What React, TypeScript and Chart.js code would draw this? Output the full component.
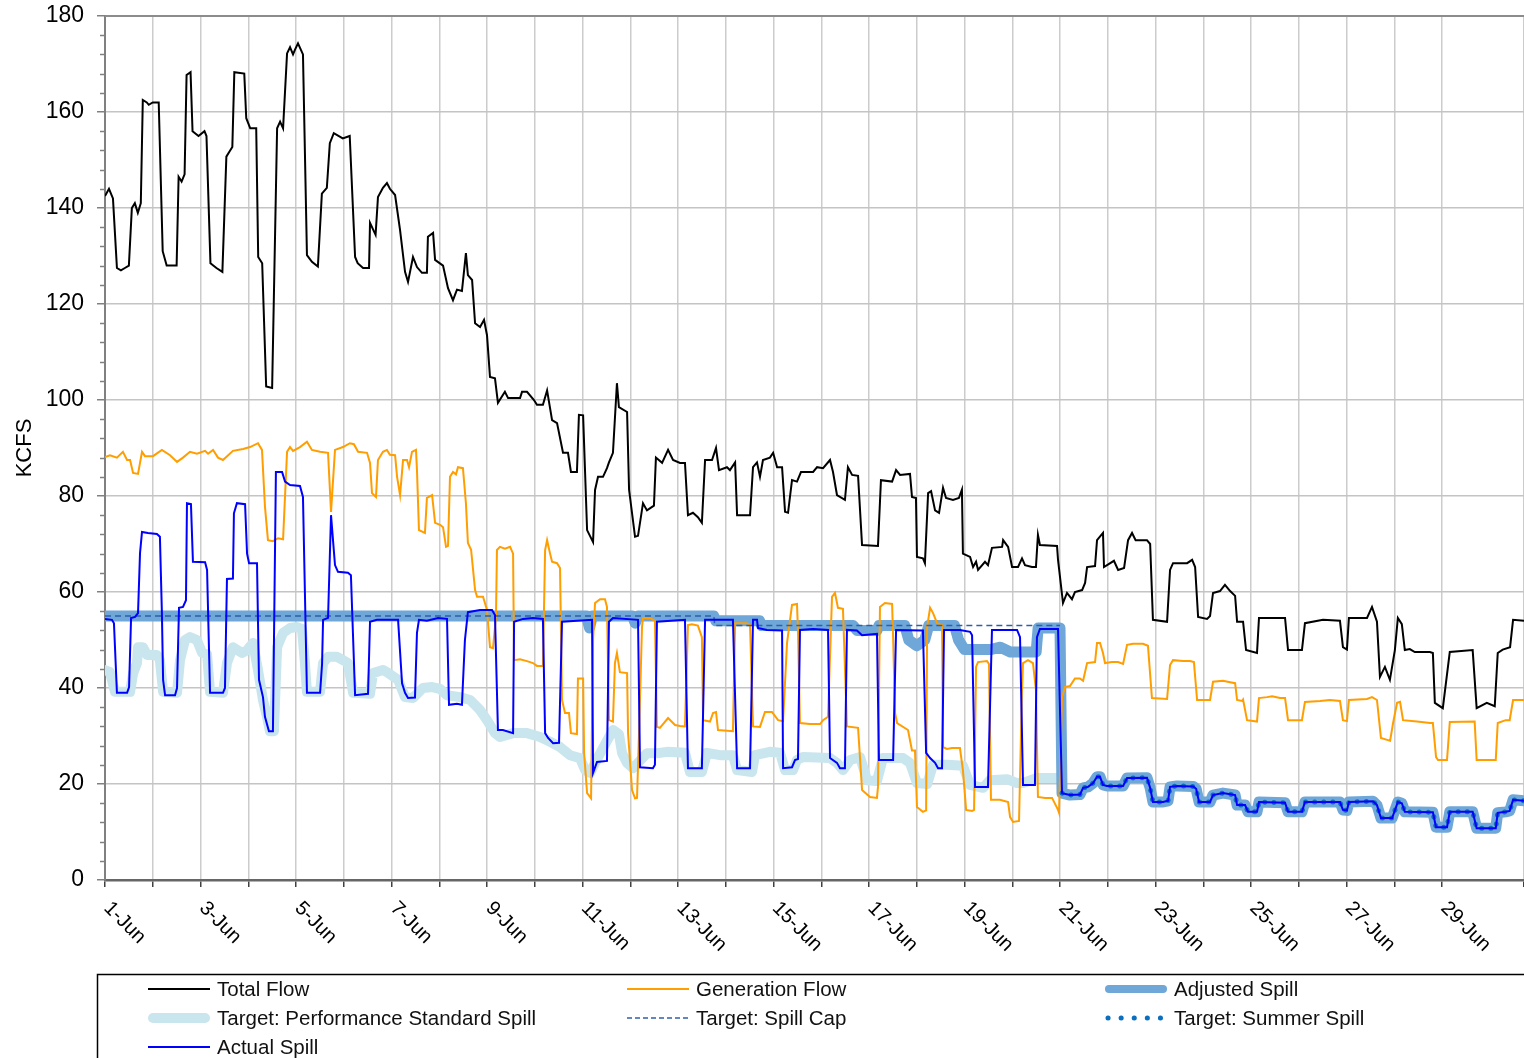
import React, { useEffect, useRef } from "react";
import { Chart, registerables } from "chart.js";

Chart.register(...registerables);

// Hours since 1-Jun 00:00, value in KCFS
const totalFlow: [number, number][] = [
  [0,142.5],[2,144],[4,142],[6,127.5],[8,127],[10,127.5],[12,128],[13.5,140],[15,141],[16.5,139],[18,141],[19,162.5],[21,162],[22,161.5],[24,162],[27,162],[29,131],[31,128],[36,128],[37,146.5],[38.5,145.5],[40,147],[41,167.7],[43,168.3],[44,156],[47,155],[50,156],[51,155],[53,128.5],[56,127.5],[59,126.7],[61,150.7],[62.5,151.7],[64,152.7],[65,168.3],[70,168],[71,158.7],[73,156.6],[76,156.6],[77,129.8],[79,128.5],[81,102.8],[84,102.5],[86.5,156.6],[88,158],[89.5,156.6],[91.5,172.2],[93,173.5],[94.5,172],[95.5,173],[97,174.3],[99.5,172],[101.5,130.2],[104,128.8],[107,127.8],[109,143],[111.5,144.2],[113,153.5],[115,155.6],[119.5,154.5],[123,155],[125.7,129.8],[127,128.5],[129.7,127.5],[132.7,127.5],[133.2,136.9],[136,134.4],[137.2,142.3],[139.7,144.2],[141.7,145.2],[143.2,144],[145.8,142.7],[148.3,135.4],[150.8,126.7],[152.3,124.6],[154.8,129.8],[156.8,127.7],[159.3,126.5],[161.8,126.5],[162.3,134],[164.9,134.8],[165.9,129.2],[169.9,128],[172.4,123.3],[174.9,120.8],[176.9,123],[179.4,122.7],[181.4,130.6],[182.4,126],[184.5,125],[186,116],[188.5,115.2],[190.5,116.7],[192,113.5],[193.5,104.8],[196,104.5],[197.5,99.4],[201,101.7],[202.6,100.4],[208.6,100.4],[209.6,101.7],[212.1,101.7],[215.6,100],[217.1,99],[220.1,99],[222.2,102],[224.7,95.8],[227.2,95.2],[230.2,89],[232.7,89],[234.2,85],[237.2,85],[238.2,96.9],[240.3,96.8],[242.3,72.9],[245.3,70.4],[246.3,81.25],[247.8,84],[250.3,84],[252.3,85.8],[253.3,87],[255.3,89],[257.3,103.5],[258.3,98.5],[262.4,97.5],[263.4,81.3],[266.4,71.5],[267.9,71.7],[270.4,78.5],[272.4,77],[275.9,78],[276.9,88],[280,86.9],[283,89.6],[285.5,87.5],[289,86.9],[291.5,86.9],[293,76],[295.5,76.5],[298,75.6],[300,74.4],[301.6,87.5],[305.1,87.5],[307.1,90],[308.6,85.4],[312.6,86],[314.1,85.4],[316.7,87],[317.7,76],[324.2,76],[325.7,86],[327.7,87],[329.2,84],[330.7,87.5],[334.2,88],[335.8,89],[337.8,86],[340.3,86],[341.8,76.7],[343.3,76.5],[345.3,83.3],[347.8,83],[349.8,85],[355.9,85],[357.9,86],[360.9,85.8],[364.4,87.5],[365.9,85],[367.9,80.2],[371.9,79.2],[373.4,86],[375.5,84.4],[378.5,84.2],[380.5,69.8],[388.5,69.6],[390,83.3],[395.6,83],[397.6,85.4],[399.6,84.4],[404.6,84.6],[405.6,79.8],[407.6,79.6],[408.1,67.3],[411.1,67],[412.1,66],[413.7,80.6],[415.2,81],[417.2,77],[419.2,76.5],[421.2,81.7],[422.7,79.6],[426.2,79.2],[429.2,79.6],[430.7,81.3],[431.2,68],[434.8,67.3],[436.3,65.2],[437.8,66.3],[438.8,64.6],[442.3,66.3],[443.8,65.6],[445.8,69.2],[450.9,69.4],[451.4,70.8],[453.9,69.4],[455.9,65.2],[458.9,65.2],[460.9,67],[462.4,65.6],[465.9,65.2],[467.9,65.2],[468.9,71.9],[469.9,69.8],[478.5,69.6],[479,66.7],[481.5,57.7],[483.5,59.8],[486,58.5],[487.5,60],[491.1,60.4],[492.6,61.9],[493.6,65.2],[497.6,65.4],[498.6,70.8],[501.6,72.3],[502.1,65.2],[507.1,66.5],[509.2,64.6],[512.2,65],[514.2,70.8],[516.2,72.3],[518,70.8],[523.7,70.8],[525.3,70],[526.7,54.2],[533.8,53.8],[535.3,64.6],[536.8,66],[543.9,66],[546.4,66.7],[547.9,65.2],[549.4,54.8],[553.9,54.4],[555.4,55],[556.9,59.8],[560.4,60.2],[562.9,61.5],[565.5,60.2],[568,59.2],[569,53.8],[572,53.8],[573.5,47.9],[579,47.3],[580,54.6],[593.1,54.6],[594.6,47.9],[601.6,47.9],[603.1,53.5],[612.2,54.2],[620.7,54],[622.2,48.5],[624.2,48],[625.2,54.6],[634.3,54.6],[636.8,56.9],[639.3,53.8],[640.8,42.3],[643.3,44.4],[645.8,41.7],[648.3,47.9],[649.8,54.6],[651.8,53.3],[653.3,47.9],[655.8,48.1],[658.3,47.5],[665.9,47.5],[667.4,47.3],[668.4,36.9],[672.4,35.8],[675.9,47.5],[687.4,47.9],[689.4,35.8],[694.5,36.9],[698.5,36.2],[700,47.3],[702.5,48],[706.2,48.5],[707.7,54.2],[713.2,54]
];

const generationFlow: [number, number][] = [
  [0,88.1],[2.5,88.5],[6,88],[9,89.2],[11.1,87.5],[12.6,87.5],[14.1,84.8],[16.6,84.6],[18.6,89.2],[20.1,88.3],[24.1,88.3],[28.6,89.6],[32.7,88.5],[36.2,87.1],[39.2,88],[42.7,89.2],[46.2,88.8],[50.3,89.4],[51.8,88.8],[54.3,89.6],[56.8,88],[59.3,87.5],[64.3,89.4],[69.4,89.8],[72.9,90.2],[76.9,91],[78.9,89.6],[80.4,77.8],[81.9,70.8],[84.4,70.6],[87,71.2],[89.5,71],[91.5,89.2],[93,90.2],[94.5,89.4],[98,90.2],[101.5,91.3],[104,89.6],[108.1,89.2],[112.1,89],[113.6,76.7],[115.6,89.6],[119.6,90.2],[123.1,91],[125.1,90.8],[127.2,89.2],[131.7,89],[133.2,86.9],[134.2,80.6],[136.2,79.8],[137.2,87.5],[139.7,89.2],[141.7,89.6],[143.2,88.6],[145.8,88.5],[146.8,84],[148.3,80.2],[149.8,87.5],[151.8,87.5],[152.8,86],[154.3,89.2],[156.3,89.6],[156.8,85.4],[157.8,72.9],[160.8,72.3],[161.8,79.6],[164.4,80.2],[165.9,74.4],[168.4,74],[169.9,73.5],[171.4,69.4],[172.4,69.6],[173.4,84],[174.9,85],[176.4,84.5],[177.4,86],[179.9,85.8],[181.4,78.5],[182.4,70.2],[184,68.8],[185,64.6],[186,60.4],[187,59],[190,59],[192,56.25],[193.5,48.5],[195,48.3],[196.5,54.8],[197,68.75],[198.5,69.4],[201,69],[203.6,69.4],[205.1,68],[205.6,45.8],[208.6,46],[212.1,45.6],[215.1,45.2],[217.1,44.6],[220.1,44.6],[221.2,68.75],[222.2,70.8],[223.7,68],[224.7,66.3],[227.2,66],[228.7,65],[229.7,37.5],[231.2,34.8],[233.2,34.8],[234.2,30.6],[237.2,30.4],[237.7,42],[240.3,42],[240.8,26.4],[242.3,18.1],[244.3,17],[245.3,50],[246.3,57.7],[248.8,58.5],[251.3,58.5],[252.3,56.9],[253.3,33.3],[255.3,33],[256.3,45.2],[257.3,47.3],[258.8,43.3],[262.4,43.1],[262.9,30.6],[264.9,18.75],[266.4,17],[267.4,17.1],[268.4,30.6],[269.9,52.7],[270.4,54.6],[273.9,54.6],[276.4,54],[277.4,31.9],[278.9,31.7],[283,33.75],[286.5,32.3],[289,32.1],[291.5,32],[293,53.1],[295,53.3],[298,53],[300,50.6],[300.6,33.3],[304.1,33],[305.6,34.8],[307.1,35],[308.1,31.25],[315.6,31],[316.7,53.5],[322.7,53.5],[324.2,53.1],[325.7,32],[329.2,31.9],[331.7,35],[335.2,35],[338.3,33.3],[340.8,33.1],[342.8,49.4],[345.3,57.3],[347.8,57.5],[348.3,52],[349.3,32.7],[354.3,32.5],[359.4,32.5],[360.9,33.3],[363.4,34],[365.4,59],[366.9,59.8],[368.4,56.7],[370.9,56.5],[372.9,32],[378.5,31.7],[380.5,18.75],[384.5,17.3],[388,17.1],[388.5,19.4],[389.5,56.9],[392,57.7],[395.6,57.5],[396.1,50.6],[397.1,34.8],[398.1,32.7],[403.6,31.25],[405.6,27],[407.1,27],[408.1,15.2],[411.1,14.2],[412.7,14.5],[413.2,52.7],[414.7,56.7],[416.2,55.6],[418.2,53.5],[420.7,53.1],[421.2,27.7],[423.2,27.3],[425.7,27.5],[429.7,27.5],[431.2,22.9],[432.8,14.6],[435.8,14.4],[436.8,14.6],[437.8,44.4],[438.8,45.4],[443.3,45.6],[444.3,45],[445.3,16.7],[449.8,16.7],[453.9,16.25],[454.9,13.1],[456.4,12.1],[459.4,12.3],[460.9,39.6],[461.4,45.2],[463.9,45.8],[466.4,45.2],[467.9,39.6],[468.9,17.3],[472.5,17.1],[476,17.1],[479,14.6],[479.5,14],[481,38.1],[482.5,40.2],[485,40.4],[487.5,42],[490,42],[491.6,41.5],[493.6,45.2],[497.6,45.4],[498.6,49.4],[500.1,49.4],[501.6,47.3],[502.6,45.2],[506.1,45.4],[509.2,45.4],[511.7,45],[513.7,49],[516.7,49.2],[521.7,49.2],[524.2,48.8],[526.2,37.9],[533.8,37.7],[535.3,44.8],[536.8,45.8],[541.8,45.6],[545.3,45.6],[547.3,45.4],[548.9,37.5],[555.4,37.5],[556.9,41.3],[561.9,41.5],[565.5,41.2],[568,41],[569,37.5],[571.5,37.3],[572,37.6],[574,33.3],[579,33],[580,37.9],[584,38.1],[586.6,38.3],[590.6,37.9],[593.1,37.9],[594.6,33.3],[601.6,33.3],[603.1,37.1],[610.7,37.3],[615.7,37.5],[620.7,37.3],[622.2,33.3],[624.2,33.1],[625.2,37.5],[634.3,37.7],[636.8,38.1],[639.3,37.5],[641.3,29.6],[644.4,29.2],[645.9,29],[647.4,32.7],[649.4,36.9],[650.9,37.1],[652.4,33.3],[659.4,33],[666,32.7],[667.4,32.7],[669,25.6],[670,25],[674.5,25],[675.9,32.9],[688.4,33],[689.4,25],[699,25],[700,32.7],[704,33.3],[706,33.3],[707.7,37.5],[713.2,37.5]
];

const actualSpill: [number, number][] = [
  [0,54.4],[3.5,54.2],[4.5,53.5],[6,39],[11.1,39],[12.1,40.2],[13.1,54.6],[15.1,54.8],[16.6,55.6],[17.6,68.1],[18.6,72.5],[21.6,72.3],[26.1,72.1],[27.6,71.5],[28.6,55.6],[29.2,41.7],[30.2,38.5],[35.2,38.5],[36.2,40],[37.2,56.7],[39.2,56.9],[40.7,58.3],[41.2,78.5],[43.2,78.3],[44.2,66.3],[50.3,66.2],[51.3,64.6],[52.8,39],[59.3,39],[60.3,40],[61.3,62.7],[64.3,62.8],[64.8,76.4],[66.3,78.5],[70.4,78.3],[71.4,68],[72.4,66],[76.4,66],[77.4,41.7],[79.4,38.1],[80.4,34],[82.4,31],[84.4,31],[85.9,85],[89,85],[90.5,83],[93,82.3],[98,82.1],[99.5,79.8],[101.5,39],[108.1,39],[109.1,45],[109.6,54.2],[112.1,54.6],[113.6,76],[115.6,65.6],[117.1,64.2],[122.1,64],[123.6,63.5],[125.7,38.5],[132.2,38.8],[133.2,53.8],[136.7,54.2],[147.3,54.2],[149.3,41],[150.8,39],[152.3,37.9],[155.8,38],[156.8,51.5],[157.8,54.2],[161.8,54],[167.4,54.6],[171.9,54.4],[172.9,36.5],[176.9,36.7],[179.4,36.5],[180.9,50],[182.4,55.8],[188.5,56.25],[194.5,56.25],[196,55.2],[197.5,31.25],[200,31.25],[205.1,30.6],[205.6,53.8],[210.1,54.4],[215.1,54.6],[220.1,54.4],[221.2,30.6],[222.7,29.6],[225.2,28.5],[228.2,28.6],[229.7,53.8],[244.8,54.2],[245.3,22.3],[247.3,24.6],[252.3,24.8],[253.3,53.8],[255.3,54.6],[267.9,54.2],[268.9,23.5],[275.4,23.3],[276.4,24],[277.4,53.8],[291.5,54.2],[293,23.3],[300,23.3],[301.6,54.2],[315.6,54.2],[317.7,23.3],[324.2,23.3],[325.7,54.2],[327.7,54.2],[328.2,52.5],[332.7,52.1],[340.3,52],[340.8,23.3],[345.3,23.5],[346.8,25],[348.3,25.2],[349.3,52.1],[355.9,52.3],[363.4,52.1],[364.4,25.4],[367.9,24.4],[369.4,23.3],[371.9,23.3],[372.9,52.1],[377.9,52],[380.5,51],[388,51.3],[389,25],[396.1,25],[397.6,52.1],[411.1,52],[412.7,26.5],[414.7,25.4],[417.2,24.4],[418.7,23.3],[420.7,23.3],[421.7,52.1],[429.7,52.1],[434.8,51.7],[435.8,51],[437.3,19.4],[443.8,19.4],[445.8,52.1],[458.4,52.1],[459.9,50.6],[461.4,19.8],[467.4,19.8],[468.4,50.6],[469.9,52.3],[479,52.3],
  [481,18.1],[485,17.7],[490,17.8],[491.6,19.2],[494.1,19.4],[496.6,20.2],[498.6,21.5],[500.1,21.5],[501.6,19.8],[503.6,19.6],[511.7,19.6],[513.7,21.25],[523.7,21.3],[525.3,19.2],[526.7,16.25],[531.8,16.25],[534.3,16.5],[535.3,19.4],[538.8,19.6],[546.9,19.5],[548.4,19],[549.9,16.25],[555.4,16.25],[556.9,17.7],[561.9,18.1],[568,17.7],[569,15.6],[573,15.6],[574.5,14.2],[579,14.2],[580,16.25],[593.1,16.1],[594.6,14.2],[601.6,14.2],[603.1,16.25],[620.7,16.25],[622.2,14.6],[624.2,14.5],[625.2,16.25],[637.3,16.4],[639.3,15.6],[641.3,12.9],[646.9,12.9],[648.4,14.6],[649.8,16.25],[651.8,16],[653.3,14.2],[667.4,14.1],[669,11],[674.5,11],[675.9,14.2],[687.4,14.2],[689.4,10.8],[699,10.8],[700,14],[704,14.2],[706,14.4],[707.7,16.7],[713.2,16.5]
];

const performanceStandardSpill: [number, number][] = [
  [0,43.75],[2.5,43.3],[5,39.2],[12.6,39.2],[14.1,43],[16.1,45.2],[16.6,48.5],[19.1,48.5],[21.1,46.9],[26.1,46.9],[27.6,45.8],[29.2,39.2],[36.2,39],[37.7,45.8],[40.2,50],[42.7,50.6],[46.2,50],[48.8,47.3],[51.3,47],[52.8,39.2],[59.3,39],[61.3,45.2],[64.3,48.5],[68.9,47.3],[71.4,47.9],[74.4,49.4],[76.9,43.75],[79.4,37.5],[81.4,34],[82.9,31],[84.9,31],[86.5,48.5],[89.5,51.5],[93,52.5],[96.5,52.7],[99,52.3],[100.5,45.2],[101.5,39.2],[108.1,39.2],[109.6,45.2],[112.1,46.5],[116.6,46.5],[119.6,45.8],[122.1,45.2],[124.7,39],[133.2,38.8],[134.7,43.1],[139.7,43.75],[141.7,43.3],[147.3,41.7],[150.8,38.1],[154.8,37.9],[159.8,40],[164.4,40.2],[168.4,39.8],[171.9,38.5],[178.4,38.1],[183.5,37.5],[188.5,35.4],[192,33.3],[196,30.6],[198.5,29.8],[205.1,30.6],[212.1,30.6],[218.6,29.8],[223.7,28.8],[228.7,27.7],[233.7,26],[238.7,25.4],[241.3,22.9],[243.8,22.3],[246.3,24.4],[250.3,27.5],[255.3,31.25],[258.3,30.4],[259.9,26.4],[262.4,24.4],[265.4,23.3],[267.9,24.4],[272.4,26.4],[277.4,26.4],[282.5,26.7],[291.5,26.5],[294,22.5],[300,22.5],[302.6,26.5],[309.1,26],[315.6,26],[317.7,22.9],[325.2,22.5],[326.7,26],[334.2,26.7],[339.3,26.5],[341.8,22.9],[345.8,22.9],[347.8,25],[350.8,25.6],[364.4,25.4],[367.9,24.4],[370.9,22.9],[374.5,25],[379.5,25.6],[383,20.8],[388,20.6],[391,25.4],[401.1,25.4],[404.6,24.4],[408.1,20.2],[413.2,20],[416.2,24],[423.2,24],[431.2,23.8],[434.8,19.8],[441.3,19.2],[444.8,20.8],[453.4,21],[458.4,20.2],[461.4,20.2],[468.4,21.25],[480,21.25]
];

const adjustedSpillEarly: [number, number][] = [
  [0,55],[242,55],[243.5,52.5],[245,55],[265,55],[266.5,53.5],[268,55],[306,55],[307,54],[329,54],[330,53],[376,53],[378,52],[388,52],[389,53],[402,53],[404,50],[408,48.8],[412,50],[414,53],[427,53],[429,50],[432,48],[445,48],[450,48.5],[455,47.5],[468,47.5],[469,52.5],[480,52.5]
];

const spillCap: [number, number][] = [
  [0,55],[306,55],[306.5,53],[480,53]
];

// Summer spill target (from 21-Jun)
const summerSpill: [number, number][] = actualSpill.filter(([h]) => h >= 481);
const adjustedSpill: [number, number][] = adjustedSpillEarly.concat(summerSpill);

const dayTickHours = [0,48,96,144,192,240,288,336,384,432,480,528,576,624,672];
const dayTickLabels = ["1-Jun","3-Jun","5-Jun","7-Jun","9-Jun","11-Jun","13-Jun","15-Jun","17-Jun","19-Jun","21-Jun","23-Jun","25-Jun","27-Jun","29-Jun"];

const legendLabels = [
  "Total Flow", "Generation Flow", "Adjusted Spill",
  "Target: Performance Standard Spill", "Target: Spill Cap", "Target: Summer Spill",
  "Actual Spill"
];

const FONT = '"Liberation Sans", Arial, Helvetica, sans-serif';

const toXY = (arr: [number, number][]) => arr.map(([x, y]) => ({ x, y }));

const decorPlugin = {
  id: "decor",
  afterDraw(chart: any) {
    const { ctx, chartArea, scales } = chart;
    const xs = scales.x;
    const ys = scales.y;
    ctx.save();
    // top border of plot
    ctx.strokeStyle = "#8c8c8c";
    ctx.lineWidth = 2;
    ctx.beginPath();
    ctx.moveTo(chartArea.left, chartArea.top);
    ctx.lineTo(chartArea.right, chartArea.top);
    ctx.stroke();
    // minor y ticks
    ctx.lineWidth = 1.5;
    ctx.strokeStyle = "#808080";
    for (let v = 4; v < 180; v += 4) {
      if (v % 20 === 0) continue;
      const py = Math.round(ys.getPixelForValue(v)) + 0.5;
      ctx.beginPath();
      ctx.moveTo(chartArea.left - 5, py);
      ctx.lineTo(chartArea.left, py);
      ctx.stroke();
    }
    // x labels rotated
    ctx.font = `20px ${FONT}`;
    ctx.fillStyle = "#000";
    ctx.textAlign = "left";
    ctx.textBaseline = "top";
    dayTickHours.forEach((h, i) => {
      const px = xs.getPixelForValue(h);
      ctx.save();
      ctx.translate(px + 9, chartArea.bottom + 18);
      ctx.rotate(Math.PI / 4);
      ctx.fillText(dayTickLabels[i], 0, 0);
      ctx.restore();
    });
    // legend box
    ctx.strokeStyle = "#000";
    ctx.lineWidth = 1.5;
    ctx.strokeRect(97.5, 974.5, 1500, 120);
    const cols = [148, 627, 1105];
    const rows = [989, 1018, 1047];
    const styles = [
      { c: "#000000", w: 2 },
      { c: "#ff9e00", w: 2 },
      { c: "#6ea7d8", w: 8, cap: "round" },
      { c: "#c9e5ed", w: 10, cap: "round" },
      { c: "#2f5fa8", w: 1.5, dash: [5, 3] },
      { c: "#0a6fbf", w: 5, cap: "round", dash: [0.1, 13] },
      { c: "#0000ff", w: 2 },
    ];
    legendLabels.forEach((label, i) => {
      const col = i % 3;
      const row = Math.floor(i / 3);
      const x0 = cols[col];
      const y0 = rows[row];
      const s: any = styles[i];
      ctx.save();
      ctx.strokeStyle = s.c;
      ctx.lineWidth = s.w;
      ctx.lineCap = s.cap || "butt";
      ctx.setLineDash(s.dash || []);
      ctx.beginPath();
      const pad = s.cap === "round" && !s.dash ? s.w / 2 : 0;
      ctx.moveTo(x0 + pad + (s.dash && s.cap ? 3 : 0), y0);
      ctx.lineTo(x0 + 62 - pad, y0);
      ctx.stroke();
      ctx.restore();
      ctx.font = `20.5px ${FONT}`;
      ctx.fillStyle = "#111";
      ctx.textAlign = "left";
      ctx.textBaseline = "middle";
      ctx.fillText(label, x0 + 69, y0 + 1);
    });
    ctx.restore();
  },
};

export default function App() {
  const ref = useRef<HTMLCanvasElement>(null);
  useEffect(() => {
    if (!ref.current) return;
    const line = (label: string, data: [number, number][], extra: any) => ({
      label,
      data: toXY(data),
      pointRadius: 0,
      pointHoverRadius: 0,
      tension: 0,
      fill: false,
      ...extra,
    });
    const chart = new Chart(ref.current, {
      type: "line",
      data: {
        datasets: [
          line("Total Flow", totalFlow, { borderColor: "#000000", borderWidth: 2 }),
          line("Actual Spill", actualSpill, { borderColor: "#0000ff", borderWidth: 2 }),
          line("Target: Summer Spill", summerSpill, {
            borderColor: "#0a6fbf", borderWidth: 5, borderDash: [0.1, 9], borderCapStyle: "round",
          }),
          line("Target: Spill Cap", spillCap, { borderColor: "#2f5fa8", borderWidth: 1.5, borderDash: [6, 4] }),
          line("Generation Flow", generationFlow, { borderColor: "#ff9e00", borderWidth: 2 }),
          line("Adjusted Spill", adjustedSpill, {
            borderColor: "#6ea7d8", borderWidth: 11, borderJoinStyle: "round", borderCapStyle: "round",
          }),
          line("Target: Performance Standard Spill", performanceStandardSpill, {
            borderColor: "#c9e5ed", borderWidth: 10, borderJoinStyle: "round", borderCapStyle: "round",
          }),
        ],
      },
      options: {
        animation: false,
        responsive: false,
        devicePixelRatio: 1,
        layout: { padding: { top: 16, left: 0, right: 0, bottom: 0 } },
        plugins: { legend: { display: false }, tooltip: { enabled: false } },
        events: [],
        scales: {
          x: {
            type: "linear",
            min: 0,
            max: 713.2,
            afterFit: (s: any) => { s.height = 178; s.paddingLeft = 0; s.paddingRight = 0; },
            ticks: { display: false, stepSize: 24 },
            grid: { color: "#cccccc", lineWidth: 1.5, drawTicks: true, tickLength: 7, tickColor: "#404040", tickWidth: 1.5 },
            border: { display: true, color: "#666666", width: 2.5 },
          },
          y: {
            type: "linear",
            min: 0,
            max: 180,
            afterFit: (s: any) => { s.width = 105; s.paddingTop = 0; s.paddingBottom = 0; },
            ticks: { stepSize: 20, color: "#000", padding: 13, font: { size: 23, family: FONT } },
            grid: { color: "#c4c4c4", lineWidth: 1.5, tickLength: 8, tickColor: "#808080" },
            border: { display: true, color: "#808080", width: 2 },
            title: { display: true, text: "KCFS", color: "#000", font: { size: 22, family: FONT }, padding: { top: 12, bottom: 0 } },
          },
        },
      },
      plugins: [decorPlugin],
    } as any);
    return () => chart.destroy();
  }, []);
  return (
    <div style={{ position: "absolute", left: 0, top: 0, width: 1524, height: 1058, overflow: "hidden", background: "#fff" }}>
      <canvas ref={ref} width={1524} height={1058} style={{ display: "block", width: 1524, height: 1058 }} />
    </div>
  );
}
